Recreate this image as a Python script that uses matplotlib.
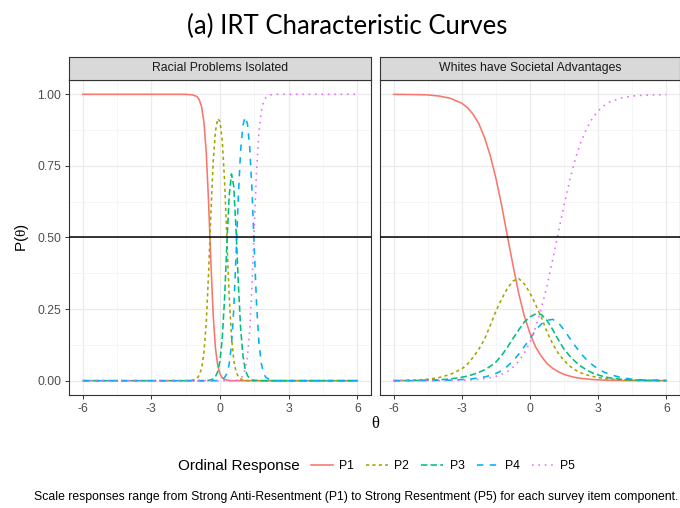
import matplotlib
matplotlib.use("Agg")
import matplotlib.pyplot as plt
from matplotlib.lines import Line2D

plt.rcParams["font.family"] = ["Liberation Sans", "DejaVu Sans"]
plt.rcParams["mathtext.fontset"] = "custom"
plt.rcParams["mathtext.rm"] = "Liberation Serif"
plt.rcParams["mathtext.it"] = "Liberation Serif:italic"

# --- values ------------------------------------------------------------------
panels = ["Racial Problems Isolated", "Whites have Societal Advantages"]
labels = ["P1", "P2", "P3", "P4", "P5"]

theta_left = [-6, -2, -1.5, -1.2, -1.0, -0.9, -0.8, -0.7, -0.6, -0.5, -0.4, -0.3,
              -0.2, -0.1, 0.0, 0.1, 0.2, 0.3, 0.4, 0.5, 0.6, 0.7, 0.8, 0.9, 1.0,
              1.1, 1.2, 1.3, 1.4, 1.5, 1.6, 1.7, 1.8, 1.9, 2.0, 2.2, 2.5, 3.0, 6.0]
p1_left = [1.0, 1.0, 1.0, 0.998, 0.992, 0.980, 0.955, 0.901, 0.796, 0.625, 0.416, 0.233,
           0.115, 0.053, 0.023, 0.010, 0.004, 0.002, 0.001, 0, 0, 0, 0, 0, 0,
           0, 0, 0, 0, 0, 0, 0, 0, 0, 0, 0, 0, 0, 0]
p2_left = [0, 0, 0, 0.002, 0.008, 0.020, 0.045, 0.099, 0.204, 0.374, 0.581, 0.761,
           0.871, 0.915, 0.905, 0.836, 0.697, 0.498, 0.298, 0.154, 0.072, 0.032, 0.014, 0.006, 0.003,
           0.001, 0, 0, 0, 0, 0, 0, 0, 0, 0, 0, 0, 0, 0]
p3_left = [0, 0, 0, 0, 0, 0, 0, 0, 0, 0.001, 0.003, 0.006,
           0.014, 0.031, 0.070, 0.149, 0.288, 0.475, 0.644, 0.722, 0.679, 0.531, 0.342, 0.185, 0.089,
           0.040, 0.018, 0.008, 0.003, 0.001, 0.001, 0, 0, 0, 0, 0, 0, 0, 0]
p4_left = [0, 0, 0, 0, 0, 0, 0, 0, 0, 0, 0, 0,
           0, 0.001, 0.002, 0.005, 0.011, 0.025, 0.057, 0.124, 0.248, 0.436, 0.641, 0.802, 0.891,
           0.921, 0.897, 0.814, 0.661, 0.457, 0.264, 0.134, 0.062, 0.027, 0.012, 0.002, 0, 0, 0]
p5_left = [0, 0, 0, 0, 0, 0, 0, 0, 0, 0, 0, 0,
           0, 0, 0, 0, 0, 0, 0, 0, 0.001, 0.001, 0.003, 0.007, 0.017,
           0.038, 0.085, 0.178, 0.336, 0.542, 0.735, 0.866, 0.938, 0.973, 0.988, 0.998, 1.0, 1.0, 1.0]

theta_right = [-6, -5, -4.5, -4, -3.5, -3, -2.75, -2.5, -2.25, -2, -1.75, -1.5,
               -1.25, -1, -0.75, -0.5, -0.25, 0, 0.25, 0.5, 0.75, 1, 1.25, 1.5,
               1.75, 2, 2.25, 2.5, 2.75, 3, 3.25, 3.5, 4, 4.5, 5, 6]
p1_right = [1.0, 0.999, 0.998, 0.994, 0.986, 0.969, 0.953, 0.930, 0.897, 0.849, 0.786, 0.707,
            0.613, 0.507, 0.404, 0.306, 0.226, 0.165, 0.117, 0.085, 0.060, 0.043, 0.031, 0.022,
            0.016, 0.011, 0.008, 0.006, 0.004, 0.003, 0.002, 0.0015, 0.0007, 0.0003, 0.0001, 0]
p2_right = [0.0003, 0.002, 0.005, 0.011, 0.022, 0.041, 0.058, 0.082, 0.110, 0.145, 0.193, 0.243,
            0.285, 0.322, 0.348, 0.357, 0.338, 0.306, 0.265, 0.222, 0.170, 0.128, 0.095, 0.070,
            0.051, 0.037, 0.027, 0.020, 0.015, 0.011, 0.008, 0.006, 0.003, 0.0015, 0.0008, 0.0002]
p3_right = [0.0001, 0.0008, 0.0017, 0.003, 0.006, 0.012, 0.016, 0.022, 0.029, 0.038, 0.050, 0.065,
            0.088, 0.116, 0.147, 0.177, 0.205, 0.223, 0.233, 0.231, 0.210, 0.178, 0.142, 0.110,
            0.086, 0.066, 0.050, 0.037, 0.027, 0.020, 0.014, 0.010, 0.005, 0.0025, 0.0012, 0.0003]
p4_right = [0, 0.0002, 0.0005, 0.001, 0.002, 0.004, 0.005, 0.007, 0.010, 0.013, 0.018, 0.025,
            0.035, 0.050, 0.069, 0.092, 0.119, 0.147, 0.176, 0.198, 0.211, 0.214, 0.202, 0.177,
            0.148, 0.120, 0.094, 0.072, 0.055, 0.041, 0.030, 0.022, 0.011, 0.005, 0.0025, 0.0006]
p5_right = [0, 0.0001, 0.0001, 0.0003, 0.0007, 0.0015, 0.0022, 0.0032, 0.0047, 0.0070, 0.0102, 0.015,
            0.022, 0.032, 0.047, 0.067, 0.096, 0.135, 0.187, 0.253, 0.332, 0.423, 0.519, 0.614,
            0.701, 0.776, 0.836, 0.882, 0.917, 0.942, 0.960, 0.973, 0.987, 0.994, 0.997, 0.999]

colors = ["#F8766D", "#A3A500", "#00BF7D", "#00B0F6", "#E76BF3"]
dashes = ["-", (0, (2, 2)), (0, (4, 2)), (0, (4, 4)), (0, (1, 3))]

W, H = 680, 508


def fx(px):
    return px / W


def fy(py):
    return 1 - py / H


def main():
    fig = plt.figure(figsize=(W / 100, H / 100), dpi=100)
    boxes = [(69, 302), (380, 300)]
    data = [(theta_left, [p1_left, p2_left, p3_left, p4_left, p5_left]),
            (theta_right, [p1_right, p2_right, p3_right, p4_right, p5_right])]

    for i, ((x0, w), (th, curves)) in enumerate(zip(boxes, data)):
        ax = fig.add_axes([fx(x0), fy(395), w / W, 315 / H])
        ax.set_xlim(-6.6, 6.6); ax.set_ylim(-0.05, 1.05)
        ax.set_xticks([-6, -3, 0, 3, 6]); ax.set_xticks([-4.5, -1.5, 1.5, 4.5], minor=True)
        ax.set_yticks([0, 0.25, 0.5, 0.75, 1.0]); ax.set_yticks([0.125, 0.375, 0.625, 0.875], minor=True)
        ax.set_xticklabels(["-6", "-3", "0", "3", "6"])
        ax.set_yticklabels(["0.00", "0.25", "0.50", "0.75", "1.00"])
        ax.grid(which="major", color="#EBEBEB", lw=0.9)
        ax.grid(which="minor", color="#F3F3F3", lw=0.5)
        ax.set_axisbelow(True)
        ax.tick_params(which="minor", length=0)
        ax.tick_params(which="major", length=3.2, width=0.7, color="#333333",
                       labelsize=8.8, labelcolor="#4D4D4D", pad=2.2)
        if i == 1:
            ax.tick_params(axis="y", left=False, labelleft=False)
        for s in ax.spines.values():
            s.set_color("#333333"); s.set_linewidth(0.8)

        for k, ys in enumerate(curves):
            ax.plot(th, ys, color=colors[k], ls=dashes[k], lw=1.15, zorder=3)
        ax.axhline(0.5, color="black", lw=1.1, zorder=4)

        sax = fig.add_axes([fx(x0), fy(80), w / W, 23 / H])
        sax.set_facecolor("#D9D9D9")
        sax.set_xticks([]); sax.set_yticks([])
        for s in sax.spines.values():
            s.set_color("#333333"); s.set_linewidth(0.8)
        sax.text(0.5, 0.5, panels[i], ha="center", va="center", fontsize=8.8,
                 color="#1A1A1A", transform=sax.transAxes)

    fig.text(0.510, fy(26), "(a) IRT Characteristic Curves", ha="center", va="center",
             fontsize=18.5, family=["Lato", "DejaVu Sans"])
    fig.text(fx(375), fy(424), "θ", ha="center", va="center", fontsize=12,
             family=["Liberation Serif", "DejaVu Serif"])
    fig.text(fx(22), fy(238), r"P($\mathrm{\theta}$)", ha="center", va="center",
             fontsize=11, rotation=90)

    handles = [Line2D([], [], color=c, ls=d, lw=1.15) for c, d in zip(colors, dashes)]
    fig.text(fx(178), fy(466), "Ordinal Response", ha="left", va="center", fontsize=11)
    fig.legend(handles, labels, ncol=5, loc="center left", bbox_to_anchor=(fx(311), fy(466)),
               frameon=False, fontsize=8.8, handlelength=1.8, handletextpad=0.5,
               columnspacing=1.0, borderpad=0, borderaxespad=0)

    fig.text(fx(678), fy(497), "Scale responses range from Strong Anti-Resentment (P1) to Strong "
             "Resentment (P5) for each survey item component.", ha="right", va="center", fontsize=8.8)

    fig.savefig("out.png", dpi=100)
    plt.close(fig)


if __name__ == "__main__":
    main()
